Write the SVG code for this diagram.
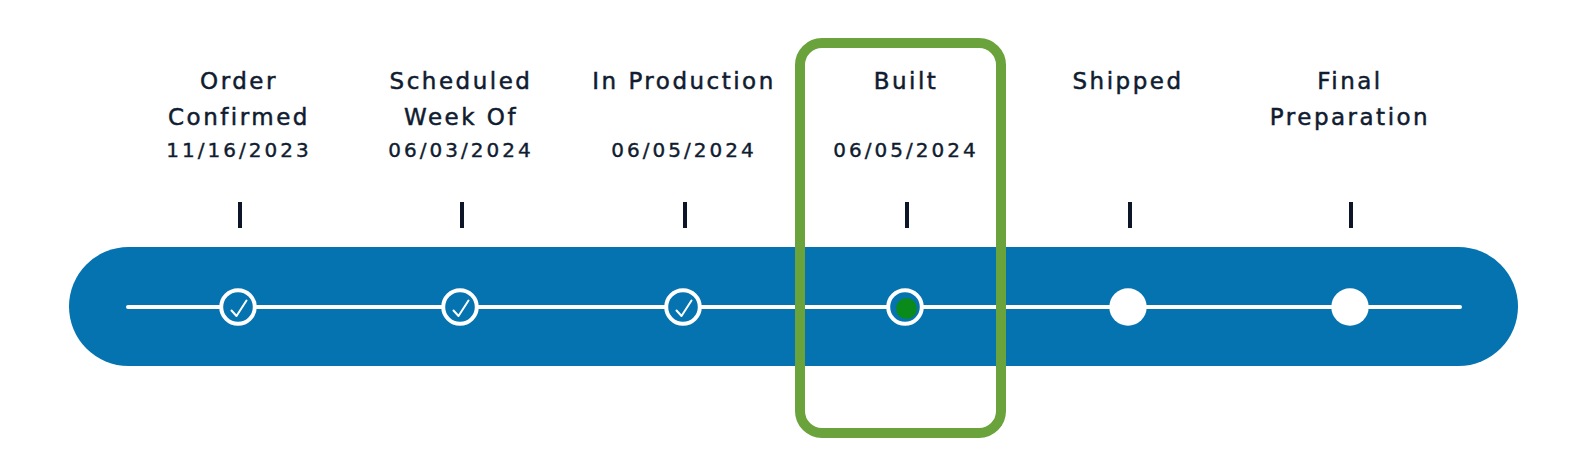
<svg xmlns="http://www.w3.org/2000/svg" width="1592" height="469" viewBox="0 0 1592 469">
<style>
.t{font-family:"DejaVu Sans",sans-serif;font-size:23px;letter-spacing:2.5px;fill:#101c30;stroke:#101c30;stroke-width:0.5px;text-anchor:middle}
.d{font-family:"DejaVu Sans",sans-serif;font-size:20px;letter-spacing:3px;fill:#101c30;stroke:#101c30;stroke-width:0.4px;text-anchor:middle}
.tick{stroke:#0c1628;stroke-width:4}
.ring{fill:#0473b0;stroke:#fff;stroke-width:4}
.chk{fill:none;stroke:#fff;stroke-width:2;stroke-linecap:round;stroke-linejoin:round}
.dot{fill:#fff}
</style>
<rect width="1592" height="469" fill="#fff"/>
<rect id="bar" x="69" y="247" width="1449" height="119" rx="59.5" fill="#0473b0"/>
<g id="connectors">
<line x1="128" y1="307" x2="1460" y2="307" stroke="#fff" stroke-width="4" stroke-linecap="round"/>
</g>
<g id="n1">
<text class="t" x="239" y="89">Order</text>
<text class="t" x="239" y="125">Confirmed</text>
<text class="d" x="239" y="157">11/16/2023</text>
<line class="tick" x1="240" y1="202" x2="240" y2="228"/>
<circle class="ring" cx="238" cy="307" r="16.8"/>
<path class="chk" d="M231.5 310.5 L236.5 316 L246.5 300.5"/>
</g>
<g id="n2">
<text class="t" x="461" y="89">Scheduled</text>
<text class="t" x="461" y="125">Week Of</text>
<text class="d" x="461" y="157">06/03/2024</text>
<line class="tick" x1="462" y1="202" x2="462" y2="228"/>
<circle class="ring" cx="460" cy="307" r="16.8"/>
<path class="chk" d="M453.5 310.5 L458.5 316 L468.5 300.5"/>
</g>
<g id="n3">
<text class="t" x="684" y="89">In Production</text>
<text class="d" x="684" y="157">06/05/2024</text>
<line class="tick" x1="685" y1="202" x2="685" y2="228"/>
<circle class="ring" cx="683" cy="307" r="16.8"/>
<path class="chk" d="M676.5 310.5 L681.5 316 L691.5 300.5"/>
</g>
<g id="n4">
<text class="t" x="906" y="89">Built</text>
<text class="d" x="906" y="157">06/05/2024</text>
<line class="tick" x1="907" y1="202" x2="907" y2="228"/>
<circle class="ring" cx="905" cy="307" r="16.8"/>
<circle cx="906.5" cy="308.5" r="10.5" fill="#0a8a1a"/>
</g>
<g id="n5">
<text class="t" x="1128" y="89">Shipped</text>
<line class="tick" x1="1130" y1="202" x2="1130" y2="228"/>
<circle class="dot" cx="1128" cy="307" r="18.7"/>
</g>
<g id="n6">
<text class="t" x="1350" y="89">Final</text>
<text class="t" x="1350" y="125">Preparation</text>
<line class="tick" x1="1351" y1="202" x2="1351" y2="228"/>
<circle class="dot" cx="1350" cy="307" r="18.7"/>
</g>
<g id="highlight">
<rect x="800" y="43" width="201" height="390" rx="22" fill="none" stroke="#6aa23b" stroke-width="10"/>
</g>
</svg>
